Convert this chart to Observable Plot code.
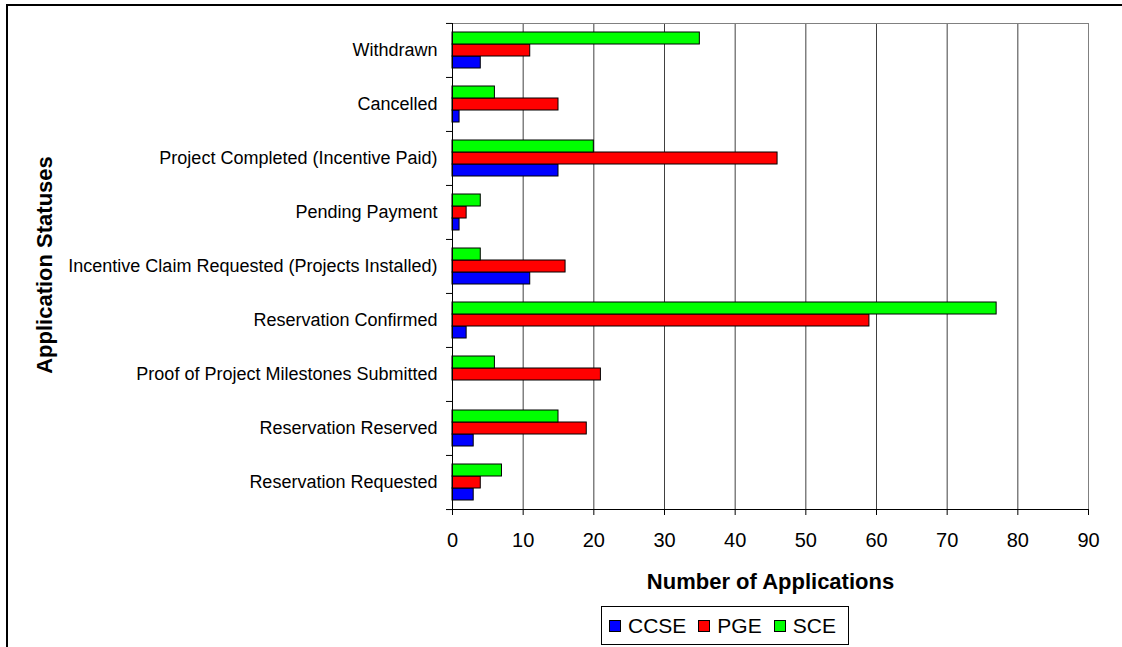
<!DOCTYPE html>
<html>
<head>
<meta charset="utf-8">
<script src="https://cdn.jsdelivr.net/npm/d3@7"></script>
<script src="https://cdn.jsdelivr.net/npm/@observablehq/plot@0.6"></script>
<style>
html,body{margin:0;padding:0;background:#fff;overflow:hidden;}
#wrap{position:relative;width:1122px;height:647px;font-family:Arial,"Liberation Sans",Helvetica,sans-serif;color:#000;}
#chart{position:absolute;left:0;top:0;}
#border{position:absolute;left:6px;top:4px;width:1200px;height:700px;border:2px solid #000;pointer-events:none;}
#ytitle{position:absolute;left:45px;top:265px;transform:translate(-50%,-50%) rotate(-90deg);font-weight:bold;font-size:22px;white-space:nowrap;}
#legend{position:absolute;left:601px;top:606px;width:248px;height:39px;box-sizing:border-box;border:1px solid #000;display:flex;align-items:center;padding-left:7px;font-size:21px;background:#fff;}
.item{display:flex;align-items:center;margin-right:12px;}
.sw{width:10px;height:10px;border:1px solid #000;margin-right:7px;}
g[aria-label="x-axis label"]{font-weight:bold;font-size:22px;}
</style>
</head>
<body>
<div id="wrap">
  <div id="chart"></div>
  <div id="ytitle">Application Statuses</div>
  <div id="legend"></div>
  <div id="border"></div>
</div>
<script>
// ---- data ----
const categories = [
  "Withdrawn",
  "Cancelled",
  "Project Completed (Incentive Paid)",
  "Pending Payment",
  "Incentive Claim Requested (Projects Installed)",
  "Reservation Confirmed",
  "Proof of Project Milestones Submitted",
  "Reservation Reserved",
  "Reservation Requested"
];
const series = ["CCSE", "PGE", "SCE"];
const seriesOrderInGroup = ["SCE", "PGE", "CCSE"];
const ccseValues = [4, 1, 15, 1, 11, 2, 0, 3, 3];
const pgeValues  = [11, 15, 46, 2, 16, 59, 21, 19, 4];
const sceValues  = [35, 6, 20, 4, 4, 77, 6, 15, 7];
const xTicks = [0, 10, 20, 30, 40, 50, 60, 70, 80, 90];
const seriesColors = ["#0000FF", "#FF0000", "#00FF00"];
const xTitle = "Number of Applications";

const valuesBySeries = {CCSE: ccseValues, PGE: pgeValues, SCE: sceValues};
const data = categories.flatMap((c, i) =>
  series.map(s => ({status: c, utility: s, value: valuesBySeries[s][i]}))
);

// ---- layout ----
const W = 1122, H = 647;
const mT = 22, mB = 138, mL = 452, mR = 34;
const halfBand = (H - mT - mB) / categories.length / 2;

const chart = Plot.plot({
  width: W,
  height: H,
  marginTop: mT,
  marginBottom: mB,
  marginLeft: mL,
  marginRight: mR,
  style: {fontFamily: "Arial, 'Liberation Sans', Helvetica, sans-serif", background: "transparent", color: "#000", overflow: "visible"},
  x: {domain: [xTicks[0], xTicks[xTicks.length - 1]]},
  fy: {domain: categories, padding: 0},
  y: {domain: seriesOrderInGroup, paddingInner: 0, paddingOuter: 0.68, axis: null},
  color: {domain: series, range: seriesColors},
  marks: [
    Plot.gridX({ticks: xTicks, stroke: "#404040", strokeOpacity: 1}),
    Plot.ruleX([xTicks[xTicks.length - 1]], {stroke: "#808080"}),
    Plot.frame({anchor: "top", facetAnchor: "top", stroke: "#808080"}),
    Plot.barX(data, {fy: "status", y: "utility", x: "value", fill: "utility", stroke: "#000", strokeWidth: 1}),
    Plot.ruleX([0], {stroke: "#000"}),
    Plot.frame({anchor: "bottom", facetAnchor: "bottom", stroke: "#000"}),
    Plot.axisX({ticks: xTicks, tickSize: 6, tickPadding: 17, fontSize: 20,
      label: xTitle, labelAnchor: "center", labelOffset: 79, labelArrow: "none"}),
    Plot.axisFy({anchor: "left", tickSize: 0, tickPadding: 15, fontSize: 18, label: null}),
    Plot.axisFy({anchor: "left", tickSize: 6, tickFormat: () => "", label: null, dy: -halfBand}),
    Plot.axisFy({anchor: "left", ticks: [categories[categories.length - 1]], tickSize: 6, tickFormat: () => "", label: null, dy: halfBand})
  ]
});
document.getElementById("chart").appendChild(chart);

// ---- legend ----
const legend = d3.select("#legend");
series.forEach((s, i) => {
  const it = legend.append("div").attr("class", "item");
  it.append("div").attr("class", "sw").style("background", seriesColors[i]);
  it.append("span").text(s);
});
</script>
</body>
</html>
